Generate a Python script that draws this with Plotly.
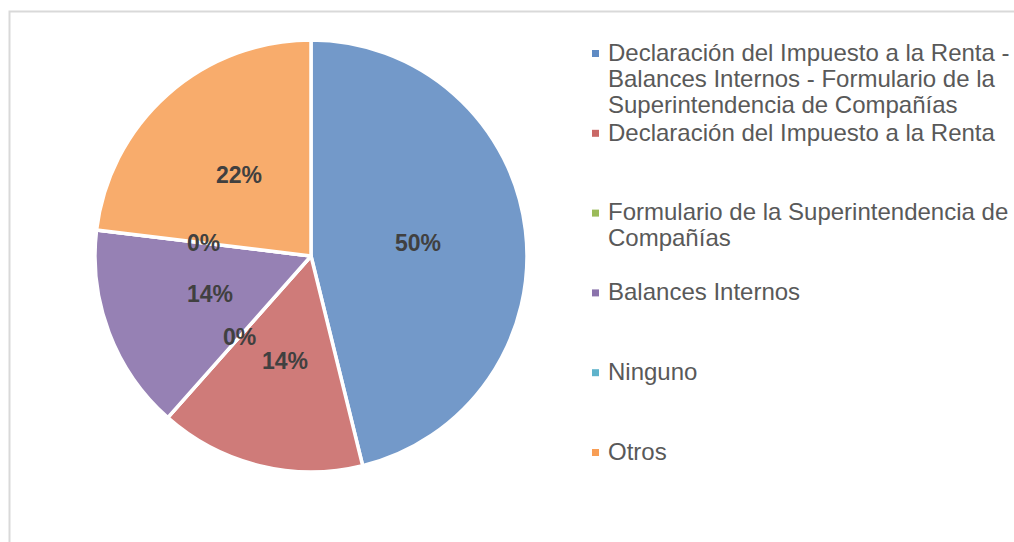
import numpy as np
import plotly.graph_objects as go

# ---- data ----
categories = [
    "Declaración del Impuesto a la Renta - Balances Internos - Formulario de la Superintendencia de Compañías",
    "Declaración del Impuesto a la Renta",
    "Formulario de la Superintendencia de Compañías",
    "Balances Internos",
    "Ninguno",
    "Otros",
]
values = [6, 2, 0, 2, 0, 3]
label_text = ["50%", "14%", "0%", "14%", "0%", "22%"]
legend_lines = [
    ["Declaración del Impuesto a la Renta -",
     "Balances Internos - Formulario de la",
     "Superintendencia de Compañías"],
    ["Declaración del Impuesto a la Renta"],
    ["Formulario de la Superintendencia de", "Compañías"],
    ["Balances Internos"],
    ["Ninguno"],
    ["Otros"],
]
slice_colors = ["#7399c9", "#cf7b79", "#9bbb59", "#9681b4", "#4bacc6", "#f8ac6c"]
legend_colors = ["#5f8bc4", "#c96866", "#9bbb59", "#8b73ac", "#5fb3cb", "#f89e55"]

# ---- layout geometry (pixels) ----
W, H = 1014, 542
cx, cy, R = 311, 256, 216

fig = go.Figure()
fig.add_trace(go.Pie(
    labels=categories,
    values=values,
    sort=False,
    direction="clockwise",
    rotation=0,
    textinfo="none",
    hoverinfo="label+percent",
    marker=dict(colors=slice_colors, line=dict(color="white", width=3.5)),
    domain=dict(x=[(cx - R) / W, (cx + R) / W],
                y=[(H - cy - R) / H, (H - cy + R) / H]),
    showlegend=False,
))

annotations = []
# data labels at half radius on each slice's mid-angle
vals = np.array(values, dtype=float)
cum = np.concatenate([[0], np.cumsum(vals)]) / vals.sum()
for i, txt in enumerate(label_text):
    mid = (cum[i] + cum[i + 1]) / 2 * 2 * np.pi
    px = cx + 0.5 * R * np.sin(mid)
    py = cy - 0.5 * R * np.cos(mid)
    annotations.append(dict(
        x=px / W, y=1 - py / H, xref="paper", yref="paper",
        text=txt, showarrow=False, xanchor="center", yanchor="middle",
        font=dict(family="Liberation Sans, Arial, sans-serif", size=23,
                  color="#404040", weight="bold"),
    ))

# custom legend
shapes = []
fs = 24
slot0, slot_gap, line_gap = 61, 79.8, 26
for i, lines in enumerate(legend_lines):
    base = slot0 + slot_gap * i
    shapes.append(dict(
        type="rect", xref="paper", yref="paper",
        x0=592 / W, x1=599 / W,
        y0=1 - (base - 4) / H, y1=1 - (base - 11) / H,
        fillcolor=legend_colors[i], line=dict(width=0),
    ))
    for j, ln in enumerate(lines):
        b = base + j * line_gap
        annotations.append(dict(
            x=606 / W, y=1 - (b - 0.36 * fs) / H, xref="paper", yref="paper",
            text=ln, showarrow=False, xanchor="left", yanchor="middle",
            font=dict(family="Liberation Sans, Arial, sans-serif", size=fs,
                      color="#595959"),
        ))

# chart border
shapes.append(dict(
    type="rect", xref="paper", yref="paper",
    x0=9.5 / W, x1=1.02, y0=-0.05, y1=1 - 11.5 / H,
    line=dict(color="#d9d9d9", width=2), fillcolor="rgba(0,0,0,0)",
    layer="below",
))

fig.update_layout(
    width=W, height=H, autosize=False,
    margin=dict(l=0, r=0, t=0, b=0),
    paper_bgcolor="white", plot_bgcolor="white",
    annotations=annotations, shapes=shapes,
    font=dict(family="Liberation Sans, Arial, sans-serif"),
)

fig.write_html("out.html", config={"displayModeBar": False})

# remove default page margin so the figure fills the window exactly
with open("out.html", "r", encoding="utf-8") as f:
    html = f.read()
html = html.replace("<head>", "<head><style>html,body{margin:0;padding:0;overflow:hidden;}</style>", 1)
with open("out.html", "w", encoding="utf-8") as f:
    f.write(html)
